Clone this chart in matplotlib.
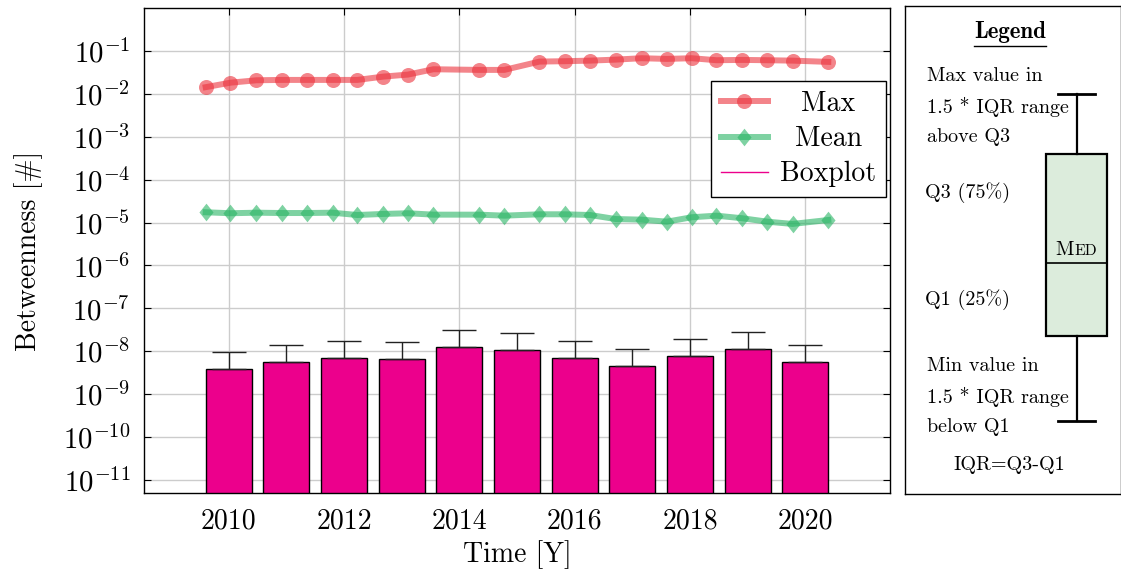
import matplotlib
matplotlib.use("Agg")
import matplotlib.pyplot as plt
from matplotlib.lines import Line2D
from matplotlib.ticker import NullLocator, FixedLocator

plt.rcParams["font.family"] = ["cmr10"]
plt.rcParams["mathtext.fontset"] = "cm"
plt.rcParams["axes.formatter.use_mathtext"] = True
plt.rcParams["axes.unicode_minus"] = False

# ---- data -------------------------------------------------------------
bar_years = [2010, 2011, 2012, 2013, 2014, 2015, 2016, 2017, 2018, 2019, 2020]
bar_median = [3.8e-9, 5.5e-9, 7.0e-9, 6.7e-9, 1.24e-8, 1.05e-8,
              6.9e-9, 4.5e-9, 7.9e-9, 1.11e-8, 5.5e-9]
bar_upper = [9.5e-9, 1.40e-8, 1.77e-8, 1.67e-8, 3.09e-8, 2.63e-8,
             1.71e-8, 1.13e-8, 1.97e-8, 2.77e-8, 1.40e-8]

line_x = [2009.60, 2010.03, 2010.48, 2010.92, 2011.35, 2011.80, 2012.23,
          2012.68, 2013.11, 2013.55, 2014.34, 2014.78, 2015.39, 2015.83,
          2016.27, 2016.71, 2017.16, 2017.60, 2018.03, 2018.46, 2018.91,
          2019.34, 2019.78, 2020.40]
max_vals = [0.0143, 0.0182, 0.0207, 0.0211, 0.0211, 0.0211, 0.0211,
            0.0252, 0.0281, 0.0374, 0.0361, 0.0361, 0.0564, 0.0576,
            0.0594, 0.0627, 0.0676, 0.0651, 0.0676, 0.0607, 0.0617,
            0.0607, 0.0594, 0.0555]
mean_vals = [1.74e-5, 1.65e-5, 1.70e-5, 1.67e-5, 1.67e-5, 1.70e-5, 1.50e-5,
             1.59e-5, 1.65e-5, 1.53e-5, 1.53e-5, 1.45e-5, 1.56e-5, 1.56e-5,
             1.50e-5, 1.21e-5, 1.17e-5, 1.05e-5, 1.33e-5, 1.45e-5, 1.26e-5,
             1.05e-5, 0.93e-5, 1.15e-5]

x_ticks = [2010, 2012, 2014, 2016, 2018, 2020]
y_ticks = [1e-11, 1e-10, 1e-9, 1e-8, 1e-7, 1e-6, 1e-5, 1e-4, 1e-3, 1e-2, 1e-1]

# ---- styles -----------------------------------------------------------
RED = (236 / 255, 50 / 255, 60 / 255)
GREEN = (40 / 255, 180 / 255, 100 / 255)
MAGENTA = "#EC008C"
FS = 20

fig = plt.figure(figsize=(11.21, 5.79), dpi=100)
ax = fig.add_axes([144 / 1121, 86 / 579, 746 / 1121, 485 / 579])

ax.set_yscale("log")
ax.set_ylim(5e-12, 1.0)
ax.set_xlim(2008.53, 2021.47)

ax.grid(True, which="major", color="#cccccc", linewidth=1.0, zorder=0)
ax.set_axisbelow(True)

# boxplot bars with upper whisker
err_up = [u - m for u, m in zip(bar_upper, bar_median)]
ax.bar(bar_years, bar_median, width=0.8, bottom=1e-13, color=MAGENTA,
       edgecolor="black", linewidth=1.0, zorder=2)
ax.errorbar(bar_years, bar_median, yerr=[[0] * len(err_up), err_up],
            fmt="none", ecolor="#222222", elinewidth=1.0, capsize=12.2,
            capthick=1.0, zorder=2.5)

diamond = [(-0.8, 0), (0, 1), (0.8, 0), (0, -1), (-0.8, 0)]
ax.plot(line_x, max_vals, color=RED, alpha=0.6, linewidth=4.3,
        marker="o", markersize=10.8, markeredgewidth=0, zorder=3)
ax.plot(line_x, mean_vals, color=GREEN, alpha=0.6, linewidth=4.3,
        marker=diamond, markersize=12.7, markeredgewidth=0, zorder=3)

ax.xaxis.set_major_locator(FixedLocator(x_ticks))
ax.set_xticklabels([str(v) for v in x_ticks])
ax.yaxis.set_major_locator(FixedLocator(y_ticks))
ax.yaxis.set_minor_locator(NullLocator())
ax.xaxis.set_minor_locator(NullLocator())
ax.tick_params(axis="both", which="major", direction="in", length=5,
               top=True, right=True, labelsize=FS, width=0.8)
ax.tick_params(axis="y", pad=10, labelsize=20.8)
ax.tick_params(axis="x", pad=11)
for sp in ax.spines.values():
    sp.set_linewidth(1.0)

ax.set_xlabel("Time [Y]", fontsize=FS, labelpad=4)
ax.set_ylabel("Betweenness [#]", fontsize=FS, labelpad=14)

handles = [
    Line2D([], [], color=RED, alpha=0.6, linewidth=4.3, marker="o",
           markersize=10.8, markeredgewidth=0),
    Line2D([], [], color=GREEN, alpha=0.6, linewidth=4.3, marker=diamond,
           markersize=12.7, markeredgewidth=0),
    Line2D([], [], color=MAGENTA, linewidth=1.0),
]
leg = ax.legend(handles, ["Max", "Mean", "Boxplot"], loc="upper right",
                bbox_to_anchor=(0.9946, 0.8495), fontsize=FS,
                frameon=True, fancybox=False, edgecolor="black",
                framealpha=1.0, borderpad=0.35, handlelength=1.7,
                handletextpad=0.45, labelspacing=0.32, borderaxespad=0.0,
                numpoints=1)
leg.get_frame().set_linewidth(1.0)
leg.set_zorder(5)

# ---- side panel explaining the boxplot glyph --------------------------
pan = fig.add_axes([905 / 1121, 85 / 579, 215.5 / 1121, 488 / 579])
stats = [{"whislo": 0.150, "q1": 0.3244, "med": 0.4727, "q3": 0.696,
          "whishi": 0.819, "fliers": []}]
pan.bxp(stats, positions=[0.796], widths=0.2806, capwidths=0.17,
        patch_artist=True, showfliers=False,
        boxprops=dict(facecolor="#dcecdc", edgecolor="black", linewidth=1.6),
        whiskerprops=dict(color="black", linewidth=1.6),
        capprops=dict(color="black", linewidth=2.0),
        medianprops=dict(color="black", linewidth=1.2))
pan.set_xlim(0, 1)
pan.set_ylim(0, 1)
pan.set_xticks([])
pan.set_yticks([])
for sp in pan.spines.values():
    sp.set_linewidth(1.0)

PFS = 14.5
pan.text(0.486, 0.946, "Legend", fontsize=16.5, family="cmb10",
         ha="center", va="center")
pan.plot([0.319, 0.656], [0.918, 0.918], color="black", linewidth=1.0)
left_notes = [
    (0.103, 0.857, "Max value in"),
    (0.103, 0.794, "1.5 * IQR range"),
    (0.103, 0.732, "above Q3"),
    (0.0926, 0.617, "Q3 (75%)"),
    (0.0926, 0.3975, "Q1 (25%)"),
    (0.103, 0.263, "Min value in"),
    (0.103, 0.199, "1.5 * IQR range"),
    (0.103, 0.138, "below Q1"),
]
for x, y, s in left_notes:
    pan.text(x, y, s, fontsize=PFS, ha="left", va="center")
pan.text(0.486, 0.0594, "IQR=Q3-Q1", fontsize=PFS, ha="center", va="center")
# small-caps "Med" above the median line
pan.text(0.785, 0.4898, "M", fontsize=PFS, ha="right", va="baseline")
pan.text(0.785, 0.4898, "ED", fontsize=11.2, ha="left", va="baseline")

# centre the legend labels within their column
fig.canvas.draw()
r = fig.canvas.get_renderer()
texts = leg.get_texts()
widths = [t.get_window_extent(r).width for t in texts]
wmax = max(widths)
for t, w in zip(texts, widths):
    t.set_x((wmax - w) / 2.0)

fig.savefig("out.png", dpi=100)
